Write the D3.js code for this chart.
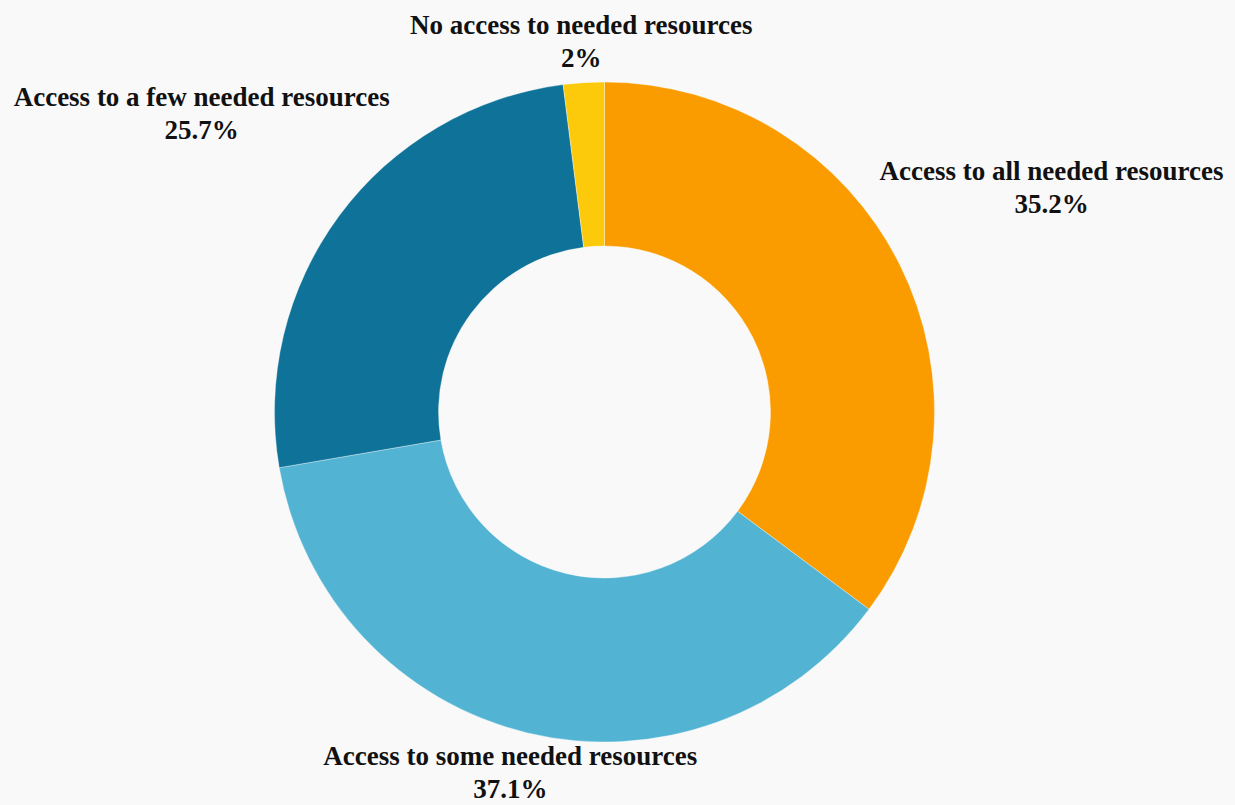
<!DOCTYPE html>
<html>
<head>
<meta charset="utf-8">
<script src="https://cdn.jsdelivr.net/npm/d3@7"></script>
<style>
  html, body { margin: 0; padding: 0; background: #f9f9f9; }
  svg { display: block; }
  .lbl { font-family: "Liberation Serif", "DejaVu Serif", serif; font-weight: 700; font-size: 27px; fill: #111; }
</style>
</head>
<body>
<svg id="chart" width="1235" height="805"></svg>
<script>
// Share of respondents by level of access to needed resources (%)
const categories = [
  "Access to all needed resources",
  "Access to some needed resources",
  "Access to a few needed resources",
  "No access to needed resources"
];
const values = [35.2, 37.1, 25.7, 2];
const valueLabels = ["35.2%", "37.1%", "25.7%", "2%"];
const colors = ["#fa9c00", "#52b3d3", "#0e7299", "#fcc90b"];

const W = 1235, H = 805;
const cx = 604.5, cy = 412;
const outerR = 330, innerR = 166;

const svg = d3.select("#chart");
const g = svg.append("g").attr("transform", `translate(${cx},${cy})`);

const data = categories.map((c, i) => ({ name: c, value: values[i], label: valueLabels[i], color: colors[i] }));

const pie = d3.pie().value(d => d.value).sort(null);
const arc = d3.arc().innerRadius(innerR).outerRadius(outerR);
const arcs = pie(data);

g.selectAll("path.slice")
  .data(arcs)
  .join("path")
  .attr("class", "slice")
  .attr("d", arc)
  .attr("fill", d => d.data.color)
  .attr("stroke", "rgba(255,255,255,0.35)")
  .attr("stroke-width", 1);

// Two-line labels: the block runs from the cap top of the name line to
// the baseline of the value line, and is centred on its own origin.
const capH = 18, lineGap = 33, pad = 5, descent = 7;
const blockH = capH + lineGap;

const labels = g.selectAll("g.label")
  .data(arcs)
  .join("g")
  .attr("class", "label");

labels.append("text").attr("class", "lbl").attr("text-anchor", "middle")
  .attr("y", -blockH / 2 + capH).text(d => d.data.name);
labels.append("text").attr("class", "lbl").attr("text-anchor", "middle")
  .attr("y", blockH / 2).text(d => d.data.label);

// Each block sits outside its slice along the mid-angle, pushed out far
// enough to clear the ring, then kept on the canvas.
labels.each(function(d) {
  const halfW = this.getBBox().width / 2, halfH = blockH / 2;
  const a = (d.startAngle + d.endAngle) / 2;
  const dx = Math.sin(a), dy = -Math.cos(a);
  const t = outerR + pad + Math.abs(halfW * dx) + Math.abs(halfH * dy);
  let x = dx * t, y = dy * t;
  x = Math.max(-cx + halfW + 4, Math.min(W - cx - halfW - 2, x));
  y = Math.max(-cy + halfH + 6, Math.min(H - cy - halfH - descent, y));
  d3.select(this).attr("transform", `translate(${x},${y})`);
});
</script>
</body>
</html>
